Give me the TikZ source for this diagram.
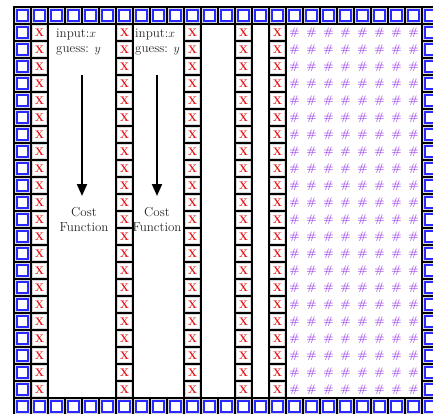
\documentclass[tikz,border=0pt]{standalone}
\usetikzlibrary{arrows.meta}
\definecolor{sqblue}{RGB}{40,40,255}
\definecolor{xred}{RGB}{235,15,15}
\definecolor{hashpurple}{RGB}{160,70,235}
\begin{document}
\begin{tikzpicture}[x=1pt,y=-1pt,
  cellline/.style={draw=black,line width=2pt},
  cellrim/.style={draw=black!15,line width=0.8pt},
  bluesq/.style={draw=sqblue,line width=1.6pt},
  xmark/.style={text=xred,font=\fontsize{11}{11}\selectfont\bfseries,inner sep=0pt},
  hashmark/.style={text=hashpurple,font=\fontsize{11}{11}\selectfont\bfseries,inner sep=0pt},
  lbl/.style={text=black!85,font=\fontsize{13}{14.5}\selectfont,inner sep=0pt,align=left},
  cost/.style={text=black!85,font=\fontsize{13}{15}\selectfont,inner sep=0pt,align=center},
  arr/.style={line width=2pt,-{Triangle[length=12pt,width=10pt]}}]
\useasboundingbox (0,0) rectangle (433,414);
\fill[white] (0,0) rectangle (433,414);
% border cells (blue squares)
\foreach \i in {0,...,24}{
  \foreach \j in {0,...,23}{
    \pgfmathtruncatemacro{\isb}{(\i==0)||(\i==24)||(\j==0)||(\j==23)}
    \ifnum\isb=1
      \pgfmathsetmacro{\xa}{14+17*\i}
      \pgfmathsetmacro{\ya}{7+17*\j}
      \fill[white] (\xa,\ya) rectangle ++(17,17);
      \draw[cellrim] (\xa+1.8,\ya+1.8) rectangle ++(13.4,13.4);
      \draw[cellline] (\xa,\ya) rectangle ++(17,17);
      \node[bluesq,minimum size=10.5pt,inner sep=0pt] (b-\i-\j) at (\xa+8.5,\ya+8.5) {};
    \fi
  }
}
% X columns
\foreach \i in {1,6,10,13,15}{
  \foreach \j in {1,...,22}{
    \pgfmathsetmacro{\xa}{14+17*\i}
    \pgfmathsetmacro{\ya}{7+17*\j}
    \draw[cellrim] (\xa+1.8,\ya+1.8) rectangle ++(13.4,13.4);
    \draw[cellline] (\xa,\ya) rectangle ++(17,17);
    \node[xmark] (x-\i-\j) at (\xa+8.5,\ya+8.7) {X};
  }
}
% hash field
\foreach \i in {16,...,23}{
  \foreach \j in {1,...,22}{
    \pgfmathsetmacro{\xa}{14+17*\i}
    \pgfmathsetmacro{\ya}{7+17*\j}
    \node[hashmark] (h-\i-\j) at (\xa+8.5,\ya+8.5) {\#};
  }
}
% texts
\node[lbl,anchor=north west] (t1) at (56,29) {input:$x$\\guess: $y$};
\node[lbl,anchor=north west] (t2) at (135,29) {input:$x$\\guess: $y$};
\node[cost] (c1) at (84,219) {Cost\\Function};
\node[cost] (c2) at (157,219) {Cost\\Function};
\coordinate (a1s) at (82,75);
\coordinate (a1e) at (82,196);
\coordinate (a2s) at (157,75);
\coordinate (a2e) at (157,196);
\draw[arr] (a1s) -- (a1e);
\draw[arr] (a2s) -- (a2e);
\end{tikzpicture}
\end{document}
